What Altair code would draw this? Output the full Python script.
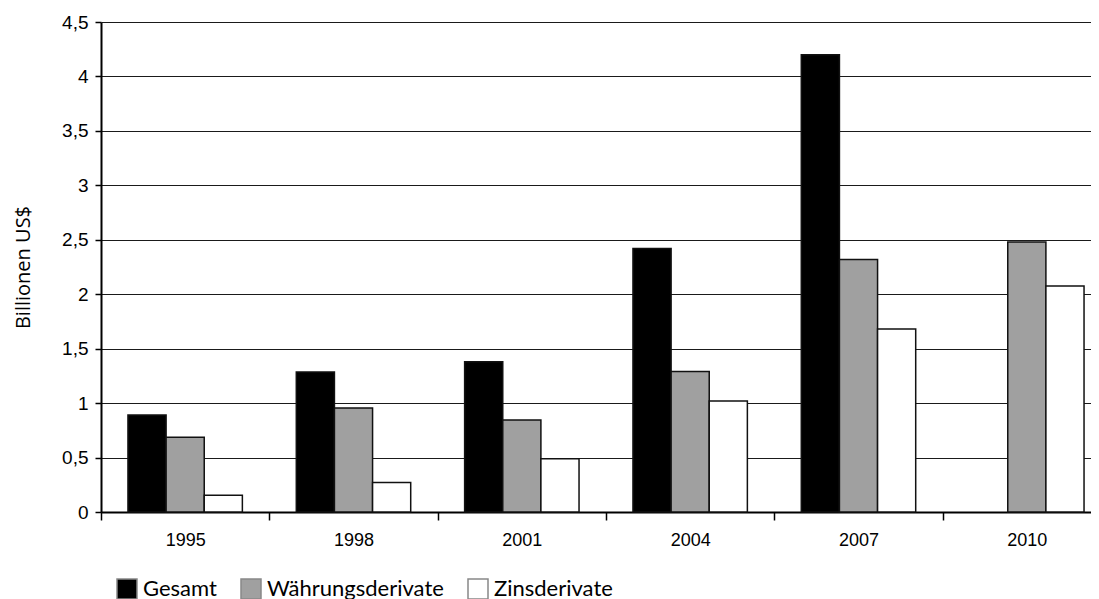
import altair as alt
import pandas as pd

years = ["1995", "1998", "2001", "2004", "2007", "2010"]
series = ["Gesamt", "Währungsderivate", "Zinsderivate"]
gesamt = [0.89, 1.285, 1.38, 2.42, 4.20, None]
waehrung = [0.686, 0.955, 0.845, 1.29, 2.32, 2.48]
zins = [0.153, 0.27, 0.49, 1.02, 1.68, 2.075]
colors = ["#000000", "#a0a0a0", "#ffffff"]
y_ticks = [0, 0.5, 1, 1.5, 2, 2.5, 3, 3.5, 4, 4.5]

rows = []
for name, vals in zip(series, [gesamt, waehrung, zins]):
    for yr, v in zip(years, vals):
        if v is not None:
            rows.append({"Jahr": yr, "Reihe": name, "Wert": v})
df = pd.DataFrame(rows)

chart = alt.Chart(df).mark_bar(stroke="#111111", strokeWidth=1.5).encode(
    x=alt.X(
        "Jahr:N",
        sort=years,
        scale=alt.Scale(domain=years, range=[0, 1010], paddingInner=0, paddingOuter=0),
        axis=alt.Axis(
            title=None, labelAngle=0, tickBand="extent", tickSize=8,
            labelPadding=11, labelFont="Liberation Sans", labelFontSize=18,
            labelColor="#000", domainColor="#000", domainWidth=2,
            tickColor="#000", tickWidth=1.5, grid=False,
        ),
    ),
    xOffset=alt.XOffset(
        "Reihe:N",
        sort=series,
        scale=alt.Scale(domain=series, paddingInner=0, paddingOuter=0.707),
    ),
    y=alt.Y(
        "Wert:Q",
        scale=alt.Scale(domain=[0, 4.5], nice=False),
        axis=alt.Axis(
            values=y_ticks,
            labelExpr="replace(format(datum.value, '.1~f'), '.', ',')",
            title="Billionen US$",
            titleFont="Open Sans", titleFontSize=20, titleFontWeight="normal",
            titleColor="#000", titleX=-78, titleY=245, titleAngle=270,
            titleAlign="center", titleBaseline="middle",
            labelFont="Liberation Sans", labelFontSize=19, labelColor="#000",
            labelPadding=7, tickSize=6, tickColor="#000", tickWidth=1.5,
            domainColor="#000", domainWidth=2,
            grid=True, gridColor="#1a1a1a", gridWidth=1.2,
        ),
    ),
    fill=alt.Fill(
        "Reihe:N",
        scale=alt.Scale(domain=series, range=colors),
        legend=alt.Legend(
            title=None, orient="none", legendX=15, legendY=556,
            direction="horizontal", symbolType="square", symbolSize=400,
            symbolStrokeColor="#888888", symbolStrokeWidth=1.5,
            labelFont="Lato", labelFontSize=22, labelColor="#000",
            labelOffset=5, columnPadding=21, labelLimit=300,
        ),
    ),
).properties(
    width=990,
    height=490,
    autosize=alt.AutoSizeParams(type="none"),
    padding={"left": 93, "top": 14, "right": 0, "bottom": 92},
).configure_view(stroke=None)

chart.save("out.html", embed_options={"renderer": "svg", "actions": False})
